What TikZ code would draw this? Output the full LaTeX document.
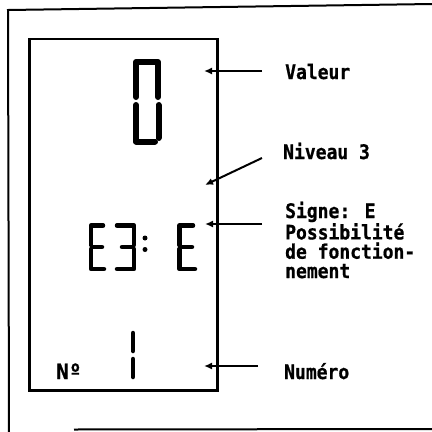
\documentclass[tikz,border=0pt]{standalone}
\usepackage{fontspec}
\usetikzlibrary{arrows.meta}
\newfontfamily\labfont{DejaVu Sans Mono}[FakeStretch=0.9,BoldFeatures={FakeBold=0.8}]
\newfontfamily\nofont{DejaVu Sans Mono}[BoldFeatures={FakeBold=1}]
\begin{document}
\begin{tikzpicture}[x=1pt,y=-1pt,
  frame/.style={line width=2pt},
  panel/.style={line width=2.8pt},
  seg/.style={line width=6pt,line cap=round,line join=round},
  segs/.style={line width=4.5pt,line cap=round,line join=round},
  arr/.style={line width=2pt,-{Latex[length=8pt,width=7pt]}},
  lab/.style={anchor=base west,inner sep=0pt,align=left,
    font=\labfont\bfseries\fontsize{20}{19.3}\selectfont}]
\useasboundingbox (0,0) rectangle (432,432);
% outer frame (scanned, partly visible)
\draw[frame] (432,4) -- (8,10) -- (9,432);
\draw[frame] (74,429.5) -- (432,429);
% display panel
\draw[panel] (29.5,39) rectangle (217.5,390.5);
% digit 0
\draw[seg] (136,97) -- (136,62) -- (158,62) -- (158,97);
\draw[seg] (136,105) -- (136,141.5) -- (155,141.5);
\draw[seg] (158.5,105) -- (158.5,138);
% E3: E
\draw[segs] (103,225.5) -- (91,225.5) -- (91,245);
\draw[segs] (91,249) -- (91,269) -- (104,269);
\draw[segs] (93,247) -- (102,247);
\draw[segs] (117,225.5) -- (134,225.5) -- (134,245);
\draw[segs] (134,249) -- (134,269) -- (117,269);
\draw[segs] (122,247) -- (132,247);
\fill (145,238) circle (2.5pt);
\fill (145,249.5) circle (2.5pt);
\draw[segs] (193,225.5) -- (179.5,225.5) -- (179.5,245);
\draw[segs] (179.5,249) -- (179.5,269) -- (195,269);
\draw[segs] (182,247) -- (192,247);
% digit 1
\draw[segs] (133,333) -- (133,351);
\draw[segs] (133,359) -- (133,377);
\node[anchor=base west,inner sep=0pt,font=\nofont\bfseries\fontsize{21}{21}\selectfont] (no) at (56,379) {Nº};
% labels
\node[lab] (valeur) at (285,79) {Valeur};
\node[lab] (niveau) at (283,159) {Niveau 3};
\node[lab] (signe) at (285,278) {Signe: E\\Possibilité\\de fonction-\\nement};
\node[lab] (numero) at (284,379) {Numéro};
% arrows
\coordinate (v1) at (262,71);   \coordinate (v2) at (204,71);
\coordinate (n1) at (262,158);  \coordinate (n2) at (205,185);
\coordinate (s1) at (262,224);  \coordinate (s2) at (205,224);
\coordinate (u1) at (258,366);  \coordinate (u2) at (204,366);
\draw[arr] (v1) -- (v2);
\draw[arr] (n1) -- (n2);
\draw[arr] (s1) -- (s2);
\draw[arr] (u1) -- (u2);
\end{tikzpicture}
\end{document}
